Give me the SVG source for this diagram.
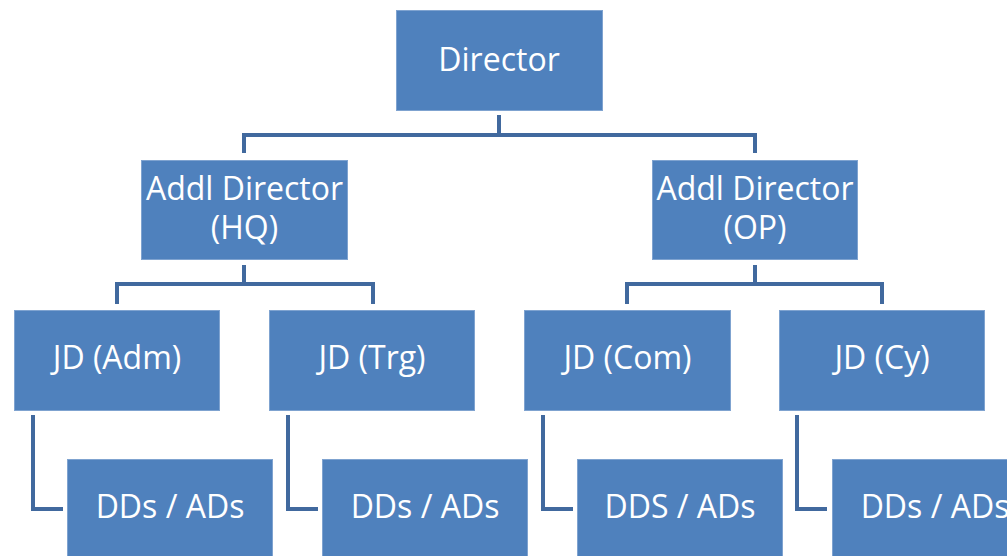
<svg xmlns="http://www.w3.org/2000/svg" width="1007" height="556" viewBox="0 0 1007 556">
<style>
.box{fill:#4F81BD;stroke:#7FA3D0;stroke-width:1}
.lbl{fill:#FFFFFF;font-family:"Open Sans","Liberation Sans",sans-serif;font-size:32px;text-anchor:middle}
.con{fill:none;stroke:#41699E;stroke-width:4;stroke-linejoin:miter}
</style>
<rect width="1007" height="556" fill="#FFFFFF"/>
<g id="connectors">
<path class="con" d="M499 115 V135 M244 153 V135 H755 V153"/>
<path class="con" d="M244 265 V284 M117 304 V284 H373 V304"/>
<path class="con" d="M755 265 V284 M627 304 V284 H882 V304"/>
<path class="con" d="M33 415 V509 H63"/>
<path class="con" d="M288 415 V509 H318"/>
<path class="con" d="M543 415 V509 H573"/>
<path class="con" d="M797 415 V509 H827"/>
</g>
<g id="director"><rect class="box" x="396.5" y="10.5" width="206" height="100"/><text class="lbl" x="499" y="71">Director</text></g>
<g id="addl-hq"><rect class="box" x="141.5" y="160.5" width="206" height="99"/><text class="lbl" x="244.5" y="200">Addl Director</text><text class="lbl" x="244.5" y="239">(HQ)</text></g>
<g id="addl-op"><rect class="box" x="652.5" y="160.5" width="205" height="99"/><text class="lbl" x="755" y="200">Addl Director</text><text class="lbl" x="755" y="239">(OP)</text></g>
<g id="jd-adm"><rect class="box" x="14.5" y="310.5" width="205" height="100"/><text class="lbl" x="117" y="369">JD (Adm)</text></g>
<g id="jd-trg"><rect class="box" x="269.5" y="310.5" width="205" height="100"/><text class="lbl" x="372" y="369">JD (Trg)</text></g>
<g id="jd-com"><rect class="box" x="524.5" y="310.5" width="206" height="100"/><text class="lbl" x="627.5" y="369">JD (Com)</text></g>
<g id="jd-cy"><rect class="box" x="779.5" y="310.5" width="205" height="100"/><text class="lbl" x="882" y="369">JD (Cy)</text></g>
<g id="dd-adm"><rect class="box" x="67.5" y="459.5" width="205" height="110"/><text class="lbl" x="170" y="518">DDs / ADs</text></g>
<g id="dd-trg"><rect class="box" x="322.5" y="459.5" width="205" height="110"/><text class="lbl" x="425" y="518">DDs / ADs</text></g>
<g id="dd-com"><rect class="box" x="577.5" y="459.5" width="205" height="110"/><text class="lbl" x="680" y="518">DDS / ADs</text></g>
<g id="dd-cy"><rect class="box" x="832.5" y="459.5" width="205" height="110"/><text class="lbl" x="935" y="518">DDs / ADs</text></g>
</svg>
